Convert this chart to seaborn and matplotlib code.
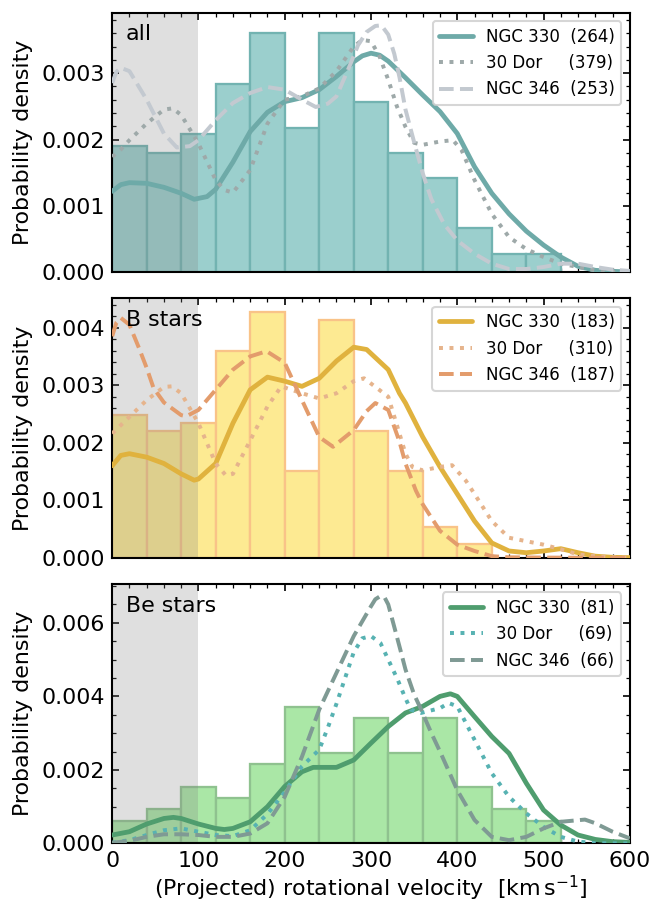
import numpy as np
import pandas as pd
import seaborn as sns
import matplotlib.pyplot as plt
from matplotlib.ticker import MultipleLocator, AutoMinorLocator, FormatStrFormatter

# bar heights (probability density, 40 km/s bins)
bins_all = list(range(0, 560, 40))
hist_all = [1.90, 1.80, 2.08, 2.84, 3.60, 2.18, 3.60, 2.56, 1.80, 1.42, 0.66, 0.28, 0.28]
bins_b = list(range(0, 480, 40))
hist_b = [2.49, 2.21, 2.35, 3.60, 4.28, 1.51, 4.14, 2.21, 1.51, 0.54, 0.25]
bins_be = list(range(0, 560, 40))
hist_be = [0.62, 0.93, 1.54, 1.23, 2.16, 3.70, 2.47, 3.40, 2.47, 3.40, 1.54, 0.93, 0.62]

# KDE curves (x in km/s, y in 1e-3)
all_330_x = [0, 10, 20, 40, 60, 80, 95, 110, 120, 140, 160, 180, 200, 220, 240, 260, 280, 290,
             300, 310, 320, 340, 360, 380, 400, 420, 440, 460, 480, 500, 520, 540, 560, 580, 600]
all_330_y = [1.22, 1.32, 1.35, 1.34, 1.28, 1.19, 1.10, 1.14, 1.25, 1.66, 2.12, 2.41, 2.57, 2.63,
             2.75, 2.95, 3.17, 3.26, 3.30, 3.27, 3.18, 2.93, 2.67, 2.42, 2.09, 1.59, 1.19, 0.88,
             0.62, 0.41, 0.23, 0.09, 0.03, 0.015, 0.005]
all_dor_x = [0, 10, 20, 40, 60, 70, 80, 100, 120, 130, 140, 160, 180, 200, 220, 240, 260, 280,
             290, 300, 310, 320, 330, 340, 350, 360, 380, 395, 405, 420, 440, 460, 480, 500, 520,
             540, 560, 580, 600]
all_dor_y = [1.74, 1.85, 1.99, 2.24, 2.45, 2.47, 2.37, 1.94, 1.39, 1.24, 1.20, 1.54, 2.24, 2.60,
             2.65, 2.77, 3.03, 3.40, 3.50, 3.48, 3.25, 2.90, 2.50, 2.19, 1.95, 1.92, 1.97, 1.99,
             1.84, 1.39, 0.88, 0.53, 0.35, 0.23, 0.13, 0.08, 0.03, 0.01, 0.005]
all_346_x = [0, 5, 10, 20, 40, 60, 75, 90, 100, 120, 140, 160, 180, 200, 220, 236, 250, 260, 275,
             285, 295, 305, 312, 320, 327, 333, 340, 350, 360, 370, 385, 400, 420, 440, 460, 480,
             500, 520, 540, 560, 580, 600]
all_346_y = [2.85, 3.02, 3.08, 3.03, 2.60, 2.09, 1.88, 1.90, 1.99, 2.29, 2.55, 2.70, 2.79, 2.75,
             2.60, 2.49, 2.54, 2.65, 3.10, 3.42, 3.62, 3.71, 3.72, 3.58, 3.29, 2.94, 2.45, 1.96,
             1.49, 1.10, 0.72, 0.48, 0.28, 0.13, 0.05, 0.05, 0.08, 0.13, 0.13, 0.08, 0.04, 0.02]

b_330_x = [0, 10, 20, 40, 60, 80, 95, 100, 120, 140, 160, 180, 200, 220, 240, 260, 280, 295, 320,
           333, 340, 360, 380, 400, 420, 440, 460, 480, 500, 520, 540, 560, 580, 600]
b_330_y = [1.60, 1.78, 1.81, 1.75, 1.64, 1.46, 1.35, 1.37, 1.64, 2.34, 2.92, 3.14, 3.07, 2.98,
           3.12, 3.42, 3.66, 3.62, 3.27, 2.86, 2.69, 2.10, 1.58, 1.11, 0.64, 0.26, 0.12, 0.09,
           0.12, 0.16, 0.09, 0.03, 0.01, 0.005]
b_dor_x = [0, 20, 40, 60, 69, 80, 100, 120, 132, 140, 160, 180, 196, 220, 240, 260, 280, 292, 320,
           333, 340, 348, 360, 380, 394, 410, 420, 440, 460, 480, 500, 520, 540, 560, 580, 600]
b_dor_y = [2.16, 2.45, 2.74, 2.97, 2.98, 2.86, 2.34, 1.64, 1.43, 1.46, 2.04, 2.63, 2.98, 2.86,
           2.77, 2.86, 3.07, 3.12, 2.80, 2.16, 1.81, 1.58, 1.52, 1.58, 1.61, 1.34, 1.11, 0.64,
           0.35, 0.29, 0.23, 0.15, 0.06, 0.03, 0.01, 0.005]
b_346_x = [0, 5, 10, 20, 31, 40, 48, 60, 80, 86, 100, 120, 140, 160, 179, 200, 220, 240, 256, 280,
           295, 305, 320, 333, 340, 352, 360, 380, 400, 420, 440, 460, 500, 600]
b_346_y = [3.85, 4.09, 4.17, 4.05, 3.65, 3.30, 2.95, 2.70, 2.48, 2.46, 2.57, 2.92, 3.27, 3.50,
           3.59, 3.39, 2.74, 2.10, 1.93, 2.22, 2.55, 2.69, 2.57, 2.02, 1.64, 1.17, 0.93, 0.47,
           0.23, 0.12, 0.03, 0.01, 0.005, 0.0]

be_330_x = [0, 20, 40, 60, 71, 80, 100, 120, 130, 140, 160, 180, 200, 220, 233, 260, 280, 300,
            320, 340, 360, 380, 392, 400, 420, 440, 460, 480, 500, 520, 540, 560, 580, 600]
be_330_y = [0.23, 0.32, 0.53, 0.68, 0.71, 0.68, 0.53, 0.41, 0.38, 0.41, 0.59, 1.00, 1.55, 1.95,
            2.07, 2.07, 2.27, 2.73, 3.18, 3.55, 3.73, 4.00, 4.07, 4.00, 3.45, 2.91, 2.45, 1.64,
            0.91, 0.50, 0.23, 0.11, 0.05, 0.03]
be_dor_x = [0, 20, 40, 60, 80, 100, 120, 140, 160, 180, 200, 220, 240, 250, 260, 270, 280, 290,
            300, 311, 321, 331, 339, 346, 358, 380, 390, 400, 420, 440, 460, 480, 500, 520, 540,
            560, 600]
be_dor_y = [0.02, 0.09, 0.23, 0.36, 0.41, 0.32, 0.23, 0.20, 0.36, 0.80, 1.40, 2.10, 2.55, 3.15,
            3.80, 4.50, 5.20, 5.58, 5.64, 5.45, 4.95, 4.45, 4.00, 3.64, 3.55, 3.68, 3.82, 3.73,
            2.82, 1.91, 1.27, 0.82, 0.45, 0.18, 0.05, 0.01, 0.0]
be_346_x = [0, 20, 40, 60, 80, 100, 120, 140, 160, 180, 200, 220, 240, 260, 280, 300, 305, 311,
            316, 320, 328, 334, 340, 350, 357, 370, 380, 400, 420, 440, 460, 480, 500, 520, 548,
            560, 580, 600]
be_346_y = [0.02, 0.07, 0.18, 0.25, 0.25, 0.23, 0.18, 0.18, 0.27, 0.55, 1.27, 2.36, 3.64, 4.64,
            5.64, 6.45, 6.64, 6.73, 6.68, 6.50, 5.80, 5.27, 4.73, 4.05, 3.70, 3.00, 2.50, 1.45,
            0.64, 0.18, 0.09, 0.18, 0.41, 0.59, 0.65, 0.55, 0.32, 0.14]

labels_all = ["NGC 330  (264)", "30 Dor     (379)", "NGC 346  (253)"]
labels_b = ["NGC 330  (183)", "30 Dor     (310)", "NGC 346  (187)"]
labels_be = ["NGC 330  (81)", "30 Dor     (69)", "NGC 346  (66)"]

sns.set_style("ticks")
plt.rcParams['font.family'] = ['DejaVu Sans']
plt.rcParams['font.size'] = 10.6
plt.rcParams['text.color'] = 'black'
plt.rcParams['axes.labelcolor'] = 'black'
plt.rcParams['axes.edgecolor'] = 'black'
plt.rcParams['xtick.color'] = 'black'
plt.rcParams['ytick.color'] = 'black'
plt.rcParams['xtick.direction'] = 'in'
plt.rcParams['ytick.direction'] = 'in'
plt.rcParams['xtick.top'] = True
plt.rcParams['ytick.right'] = True
plt.rcParams['axes.linewidth'] = 1.0

fig, axes = plt.subplots(3, 1, figsize=(652 / 150, 906 / 150), dpi=150, sharex=True)
fig.subplots_adjust(left=0.172, right=0.966, top=0.986, bottom=0.069, hspace=0.1)

panels = [
    dict(name="all", bins=bins_all, hist=hist_all, fill="#9bcfcd", edge="#72b3b1",
         curves=[(all_330_x, all_330_y), (all_dor_x, all_dor_y), (all_346_x, all_346_y)],
         colors=["#6eaaa8", "#9ea9a9", "#c3c9d0"], labels=labels_all, ytop=3.91, ymaj=1),
    dict(name="B stars", bins=bins_b, hist=hist_b, fill="#fdea92", edge="#f9c388",
         curves=[(b_330_x, b_330_y), (b_dor_x, b_dor_y), (b_346_x, b_346_y)],
         colors=["#e0b23e", "#e6b48c", "#e39c6c"], labels=labels_b, ytop=4.51, ymaj=1),
    dict(name="Be stars", bins=bins_be, hist=hist_be, fill="#aae7a6", edge="#8fc28f",
         curves=[(be_330_x, be_330_y), (be_dor_x, be_dor_y), (be_346_x, be_346_y)],
         colors=["#4f9d6e", "#57b2b2", "#7f9a94"], labels=labels_be, ytop=7.06, ymaj=2),
]
styles = [("-", 2.3), (":", 1.9), ("--", 1.9)]

for ax, p in zip(axes, panels):
    edges = p["bins"]
    hdf = pd.DataFrame({"v": [e + 20 for e in edges[:-1]], "w": [h * 1e-3 for h in p["hist"]]})
    sns.histplot(data=hdf, x="v", weights="w", bins=edges, stat="count", color=p["fill"],
                 edgecolor=p["edge"], linewidth=1.1, alpha=1, ax=ax, zorder=1)
    ax.axvspan(0, 100, color="0.5", alpha=0.25, lw=0, zorder=1.5)
    for (cx, cy), col, (ls, lw), lab in zip(p["curves"], p["colors"], styles, p["labels"]):
        df = pd.DataFrame({"v": cx, "d": [c * 1e-3 for c in cy]})
        sns.lineplot(data=df, x="v", y="d", color=col, linestyle=ls, linewidth=lw,
                     label=lab, ax=ax, zorder=3)
    ax.set_xlim(0, 600)
    ax.set_ylim(0, p["ytop"] * 1e-3)
    ax.xaxis.set_major_locator(MultipleLocator(100))
    ax.xaxis.set_minor_locator(MultipleLocator(20))
    ax.yaxis.set_major_locator(MultipleLocator(p["ymaj"] * 1e-3))
    ax.yaxis.set_minor_locator(AutoMinorLocator())
    ax.yaxis.set_major_formatter(FormatStrFormatter("%.3f"))
    ax.tick_params(which="both", direction="in", top=True, right=True, colors="black")
    ax.set_ylabel("Probability density")
    ax.set_xlabel("")
    ax.text(0.027, 0.955, p["name"], transform=ax.transAxes, va="top", ha="left",
            fontsize=10.6)
    ax.legend(loc="upper right", fontsize=8)

axes[-1].set_xlabel(r"(Projected) rotational velocity  [km$\,$s$^{-1}$]", labelpad=1.5)

fig.savefig("out.png", dpi=150)
